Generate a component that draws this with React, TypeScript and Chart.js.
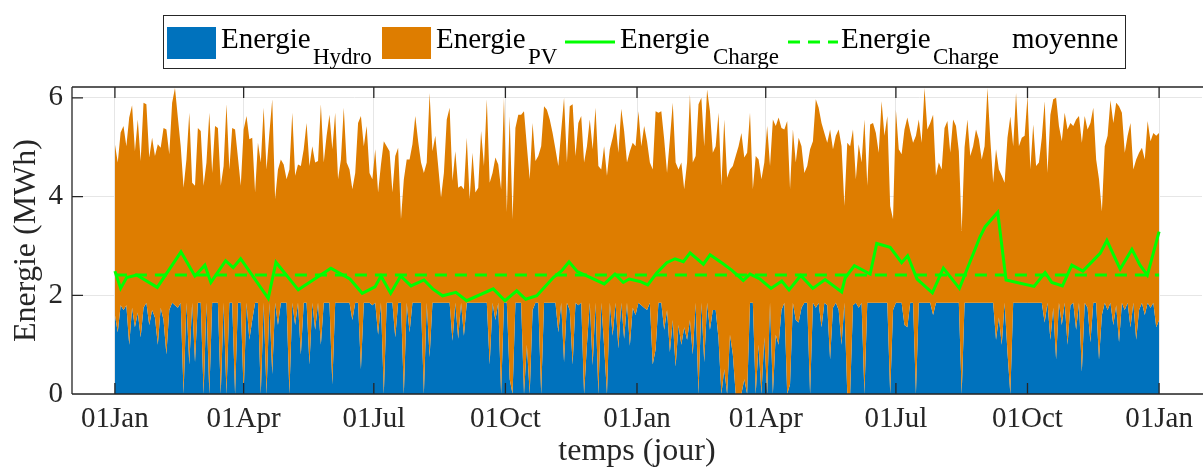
import { useEffect, useRef } from "react";
import { Chart, registerables } from "chart.js";

Chart.register(...registerables);

// ---- Données ----
const PAS_JOURS = 2; // un point tous les 2 jours

// Energie totale (Hydro + PV), MWh, jours 0..730 par pas de 2
const energieTotale = [
  5.06, 4.69, 5.3, 5.43, 5.02, 5.6, 5.85, 4.92, 5.56, 4.72,
  5.9, 5.87, 4.79, 5.19, 4.82, 5.06, 4.99, 5.39, 5.36, 4.86,
  5.9, 6.2, 5.6, 5.02, 4.18, 4.75, 5.7, 4.28, 4.22, 5.39,
  5.33, 4.22, 4.69, 5.7, 4.48, 5.43, 5.39, 4.22, 4.62, 5.87,
  4.55, 5.39, 5.36, 4.79, 4.22, 5.36, 5.63, 5.16, 5.19, 4.08,
  5.09, 4.69, 5.8, 4.55, 5.29, 5.97, 3.95, 4.55, 4.75, 4.65,
  4.35, 4.55, 5.7, 4.42, 4.65, 4.62, 4.96, 5.49, 4.62, 5.02,
  4.69, 4.72, 5.87, 4.69, 5.23, 5.66, 4.96, 5.7, 4.35, 4.75,
  5.8, 4.69, 4.55, 4.15, 4.48, 5.49, 5.63, 5.02, 5.43, 4.48,
  4.35, 4.96, 4.08, 4.65, 5.12, 5.02, 4.92, 4.08, 4.82, 4.99,
  3.54, 4.35, 4.75, 4.75, 5.06, 5.63, 5.12, 4.69, 4.48, 4.69,
  6.1, 4.92, 5.23, 4.62, 3.98, 4.48, 5.56, 5.8, 4.32, 4.92,
  4.18, 4.22, 4.15, 5.19, 3.95, 4.89, 4.08, 4.18, 5.33, 4.62,
  5.97, 4.28, 4.48, 4.79, 4.65, 4.15, 6.0, 3.68, 5.63, 3.54,
  5.39, 5.66, 5.66, 5.73, 5.02, 4.35, 5.49, 4.72, 4.82, 5.02,
  5.83, 5.76, 5.56, 5.29, 4.96, 4.62, 5.33, 6.0, 4.69, 5.83,
  5.87, 4.82, 5.49, 5.63, 4.69, 5.02, 5.56, 4.96, 5.8, 4.62,
  4.55, 5.02, 4.42, 4.96, 5.19, 5.49, 4.89, 5.78, 5.33, 4.69,
  4.92, 5.09, 5.02, 5.73, 5.02, 5.43, 5.12, 4.69, 4.55, 5.73,
  5.7, 5.73, 5.16, 4.48, 5.16, 5.9, 4.69, 4.55, 4.69, 4.15,
  4.69, 6.07, 4.69, 4.82, 5.87, 6.0, 5.02, 6.17, 5.73, 4.89,
  5.02, 5.7, 4.22, 5.56, 4.38, 4.55, 4.62, 4.82, 5.02, 5.29,
  4.79, 4.89, 5.7, 4.15, 4.82, 4.75, 4.35, 4.69, 5.43, 4.62,
  5.56, 5.43, 5.6, 5.39, 5.36, 5.53, 4.15, 5.36, 4.69, 5.19,
  5.02, 4.48, 4.62, 4.96, 5.12, 5.97, 5.8, 5.49, 5.29, 5.09,
  5.36, 4.96, 5.23, 5.36, 5.02, 3.81, 5.09, 5.02, 5.36, 4.35,
  5.06, 4.69, 5.56, 4.22, 5.46, 5.49, 5.29, 4.89, 5.93, 5.23,
  5.63, 3.81, 3.54, 5.76, 4.96, 4.86, 5.36, 5.6, 5.33, 5.09,
  5.23, 5.56, 5.09, 6.2, 5.36, 5.49, 5.66, 4.42, 4.69, 4.55,
  5.39, 5.53, 4.89, 5.56, 5.43, 4.92, 3.3, 5.0, 5.56, 4.82,
  5.02, 5.36, 5.16, 4.75, 5.02, 6.2, 5.16, 4.28, 4.96, 4.55,
  4.42, 4.28, 5.19, 5.62, 5.02, 6.1, 5.02, 5.19, 5.23, 6.03,
  4.55, 5.46, 4.62, 4.69, 5.19, 5.93, 4.48, 5.66, 5.97, 6.0,
  5.43, 5.12, 5.7, 5.36, 5.49, 5.43, 5.56, 5.63, 5.09, 5.63,
  5.36, 5.49, 5.8, 4.75, 4.35, 3.7, 5.02, 5.23, 5.95, 5.49,
  5.9, 5.83, 5.7, 4.89, 5.23, 5.49, 4.55, 4.75, 4.89, 4.99,
  4.75, 5.53, 5.12, 5.29, 5.23, 5.29,
];

// Energie Hydro, MWh, mêmes jours
const energieHydro = [
  1.6, 1.25, 1.8, 1.7, 1.8, 1.0, 1.75, 1.35, 1.65, 1.15,
  1.75, 1.85, 1.4, 1.7, 1.55, 1.0, 1.75, 1.5, 0.8, 1.7,
  1.85, 1.8, 1.75, 1.85, 0, 1.85, 0.6, 1.85, 0.65, 1.85,
  1.85, 0, 1.85, 0, 1.85, 1.85, 1.85, 0, 1.85, 0,
  1.85, 1.85, 0, 1.85, 1.85, 0, 1.85, 1.1, 1.5, 1.85,
  1.85, 0, 1.85, 0, 1.85, 0.4, 1.85, 1.4, 1.85, 1.85,
  1.85, 0, 1.85, 1.4, 1.85, 0.8, 1.85, 1.85, 0.6, 1.85,
  1.3, 1.85, 1.0, 1.85, 1.85, 1.85, 0.2, 1.85, 1.85, 1.85,
  1.85, 1.85, 1.85, 1.5, 1.85, 1.85, 0.5, 1.85, 1.85, 1.85,
  1.8, 1.85, 1.2, 1.85, 0, 1.85, 1.85, 1.85, 1.15, 1.85,
  1.85, 0, 1.85, 1.25, 1.85, 1.85, 1.85, 1.85, 0, 1.85,
  0.75, 1.85, 1.85, 1.85, 1.85, 1.85, 1.85, 1.85, 1.08, 1.85,
  1.12, 1.85, 1.18, 1.85, 1.85, 1.85, 1.85, 1.85, 1.85, 1.85,
  1.85, 0.6, 1.85, 1.5, 1.85, 0, 1.85, 1.85, 0.3, 0,
  1.85, 1.85, 1.85, 0, 1.0, 0, 1.7, 1.85, 1.85, 0,
  1.85, 1.85, 1.85, 1.85, 1.85, 1.25, 1.85, 0.65, 1.85, 1.7,
  0.6, 1.85, 1.8, 1.85, 0, 1.0, 1.85, 0.58, 1.85, 0,
  1.85, 0.98, 0, 1.85, 1.18, 1.85, 0.92, 1.85, 1.12, 1.85,
  0.98, 1.75, 1.6, 1.85, 1.8, 1.75, 1.7, 1.85, 0.6, 0.9,
  1.85, 1.85, 1.3, 1.7, 0.85, 1.5, 0.55, 1.4, 1.0, 1.35,
  1.1, 1.5, 0.8, 1.85, 0, 1.85, 0.65, 1.85, 1.3, 1.7,
  1.7, 1.12, 0, 0.5, 0, 1.2, 0.8, 0, 0, 0,
  0.3, 0, 1.85, 1.85, 0, 1.0, 0, 1.15, 0, 1.85,
  0, 1.2, 1.0, 1.7, 1.85, 0, 0.2, 1.85, 1.5, 1.45,
  1.75, 1.85, 1.85, 0, 1.85, 1.75, 1.85, 1.35, 1.85, 1.8,
  0.7, 1.75, 1.85, 1.7, 1.0, 1.85, 0, 0, 1.8, 1.85,
  1.75, 1.85, 0, 1.85, 1.85, 1.85, 1.85, 1.85, 1.85, 1.85,
  1.85, 0, 1.7, 1.85, 1.85, 1.85, 1.4, 1.35, 1.85, 1.85,
  0, 1.85, 1.85, 1.85, 1.85, 1.85, 1.6, 1.85, 1.85, 1.85,
  1.85, 1.85, 1.85, 1.85, 1.85, 1.85, 0, 1.85, 1.85, 1.85,
  1.85, 1.85, 1.85, 1.85, 1.85, 1.85, 1.85, 1.85, 1.1, 1.55,
  1.0, 1.85, 0.85, 0, 1.85, 1.85, 1.85, 1.85, 1.85, 1.85,
  1.85, 1.85, 1.85, 1.85, 1.85, 1.45, 1.85, 1.1, 1.75, 0.7,
  1.85, 1.4, 1.85, 1.0, 1.8, 1.85, 1.3, 1.85, 0.45, 1.85,
  1.75, 1.05, 1.85, 1.85, 0.7, 1.6, 1.85, 1.7, 1.85, 1.4,
  1.8, 1.05, 1.85, 1.7, 1.85, 1.35, 1.85, 1.1, 1.7, 1.85,
  1.6, 1.85, 1.75, 1.85, 1.35, 1.5,
];

// Energie de charge (jours, MWh)
const chargeJours = [
  0, 4, 8.2, 15.2, 29.6, 46.2, 55.9, 62.9, 67.1, 77.4,
  82.7, 87.9, 107.2, 112.6, 128.2, 151, 164.3, 172.9, 181.8, 186,
  192.8, 199.8, 207, 216.1, 222.2, 229.1, 238.4, 245.9, 264.5, 272.7,
  280.9, 287.2, 294.9, 306.5, 312.4, 317.5, 323.3, 331, 342.1, 349.6,
  355.4, 359.6, 367.1, 372.5, 378.8, 385.8, 391.6, 397.4, 402.1, 411.4,
  416.1, 424.7, 431.2, 439.3, 444, 451, 458.7, 466.2, 471.3, 479.5,
  487.9, 496.5, 508.1, 510.5, 517, 528, 532.6, 542, 550, 554.2,
  560.8, 571.5, 579.2, 590.4, 604.9, 608.4, 617.2, 623, 642.6, 650.3,
  655, 662.4, 669, 676.7, 688.8, 693.5, 702.8, 711, 716.7, 721.8,
  730,
];
const energieCharge = [
  2.49, 2.14, 2.36, 2.41, 2.16, 2.88, 2.39, 2.61, 2.26, 2.7,
  2.56, 2.74, 1.94, 2.67, 2.11, 2.55, 2.33, 2.04, 2.17, 2.39,
  2.04, 2.39, 2.19, 2.31, 2.13, 1.99, 2.06, 1.89, 2.13, 1.89,
  2.09, 1.92, 1.99, 2.36, 2.5, 2.68, 2.48, 2.38, 2.23, 2.43,
  2.26, 2.33, 2.28, 2.21, 2.45, 2.66, 2.74, 2.68, 2.86, 2.63,
  2.82, 2.65, 2.51, 2.3, 2.43, 2.33, 2.14, 2.29, 2.11, 2.4,
  2.14, 2.32, 2.07, 2.35, 2.6, 2.43, 3.05, 2.97, 2.66, 2.8,
  2.33, 2.05, 2.55, 2.14, 3.19, 3.39, 3.68, 2.31, 2.18, 2.46,
  2.26, 2.19, 2.61, 2.49, 2.85, 3.11, 2.53, 2.93, 2.61, 2.41,
  3.29,
];
const chargeMoyenne = 2.41;
const moyenneJours = [0, 730];

// Axes
const tickJours = [0, 90, 181, 273, 365, 455, 546, 638, 730];
const tickLabels = ["01Jan", "01Apr", "01Jul", "01Oct", "01Jan", "01Apr", "01Jul", "01Oct", "01Jan"];
const yTicks = [0, 2, 4, 6];
const xMin = -30;
const xMax = 760;
const yMax = 6.22;

// ---- Styles ----
const BLEU = "rgb(0,114,189)";
const ORANGE = "rgb(222,125,0)";
const VERT = "rgb(0,255,0)";
const AXE = "#262626";
const GRILLE = "#e6e6e6";
const FAMILLE = "'Liberation Serif', 'Times New Roman', serif";

const axesMatlab = {
  id: "axesMatlab",
  afterDatasetsDraw(chart: any) {
    const { ctx, chartArea: a, scales } = chart;
    const sx = scales.x;
    const sy = scales.y;
    const TL = 11;
    ctx.save();
    ctx.strokeStyle = AXE;
    ctx.lineWidth = 1.3;
    ctx.beginPath();
    ctx.moveTo(a.left, a.top);
    ctx.lineTo(a.right + 2, a.top);
    ctx.moveTo(a.left, a.top);
    ctx.lineTo(a.left, a.bottom);
    ctx.moveTo(a.left, a.bottom);
    ctx.lineTo(a.right + 2, a.bottom);
    sx.ticks.forEach((t: any) => {
      const px = sx.getPixelForValue(t.value);
      ctx.moveTo(px, a.bottom);
      ctx.lineTo(px, a.bottom - TL);
      ctx.moveTo(px, a.top);
      ctx.lineTo(px, a.top + TL);
    });
    sy.ticks.forEach((t: any) => {
      const py = sy.getPixelForValue(t.value);
      ctx.moveTo(a.left, py);
      ctx.lineTo(a.left + TL, py);
    });
    ctx.stroke();
    ctx.restore();
  },
};

const legendeMatlab = {
  id: "legendeMatlab",
  afterDraw(chart: any) {
    const ctx = chart.ctx;
    ctx.save();
    ctx.fillStyle = "#ffffff";
    ctx.fillRect(163.5, 15.5, 962, 53);
    ctx.strokeStyle = AXE;
    ctx.lineWidth = 1;
    ctx.strokeRect(163.5, 15.5, 962, 53);

    ctx.fillStyle = BLEU;
    ctx.fillRect(167, 27, 49, 32);
    ctx.fillStyle = ORANGE;
    ctx.fillRect(382, 27, 49, 32);

    ctx.strokeStyle = VERT;
    ctx.lineWidth = 3;
    ctx.beginPath();
    ctx.moveTo(565, 42);
    ctx.lineTo(615, 42);
    ctx.stroke();
    ctx.setLineDash([12, 8]);
    ctx.beginPath();
    ctx.moveTo(788, 42);
    ctx.lineTo(838, 42);
    ctx.stroke();
    ctx.setLineDash([]);

    ctx.fillStyle = "#000000";
    ctx.textAlign = "left";
    ctx.textBaseline = "alphabetic";
    const items: [number, string, number, string][] = [
      [221, "Energie", 313, "Hydro"],
      [436, "Energie", 528, "PV"],
      [620, "Energie", 713, "Charge"],
      [841, "Energie", 933, "Charge"],
    ];
    items.forEach(([x1, t1, x2, t2]) => {
      ctx.font = `29px ${FAMILLE}`;
      ctx.fillText(t1, x1, 48);
      ctx.font = `23px ${FAMILLE}`;
      ctx.fillText(t2, x2, 64);
    });
    ctx.font = `29px ${FAMILLE}`;
    ctx.fillText("moyenne", 1012, 48);
    ctx.restore();
  },
};

export default function App() {
  const canvasRef = useRef<HTMLCanvasElement | null>(null);

  useEffect(() => {
    document.body.style.margin = "0";
    const canvas = canvasRef.current;
    if (!canvas) return;

    const joursAire = energieTotale.map((_, i) => i * PAS_JOURS);

    const chart = new Chart(canvas, {
      type: "line",
      data: {
        datasets: [
          {
            label: "Energie Hydro",
            data: energieHydro.map((v, i) => ({ x: joursAire[i], y: v })),
            fill: "origin",
            backgroundColor: BLEU,
            borderColor: "transparent",
            borderWidth: 0,
            pointRadius: 0,
            order: 3,
          },
          {
            label: "Energie PV",
            data: energieTotale.map((v, i) => ({ x: joursAire[i], y: v })),
            fill: "-1",
            backgroundColor: ORANGE,
            borderColor: "transparent",
            borderWidth: 0,
            pointRadius: 0,
            order: 2,
          },
          {
            label: "Energie Charge",
            data: energieCharge.map((v, i) => ({ x: chargeJours[i], y: v })),
            fill: false,
            borderColor: VERT,
            borderWidth: 3,
            pointRadius: 0,
            order: 1,
          },
          {
            label: "Energie Charge moyenne",
            data: moyenneJours.map((d) => ({ x: d, y: chargeMoyenne })),
            fill: false,
            borderColor: VERT,
            borderWidth: 3,
            borderDash: [12, 8],
            pointRadius: 0,
            order: 0,
          },
        ],
      },
      options: {
        animation: false,
        responsive: true,
        maintainAspectRatio: false,
        layout: { padding: { top: 87, right: 1, left: 0, bottom: 0 } },
        elements: { line: { tension: 0 } },
        plugins: {
          legend: { display: false },
          tooltip: { enabled: false },
          filler: { drawTime: "beforeDatasetsDraw" },
        },
        scales: {
          x: {
            type: "linear",
            min: xMin,
            max: xMax,
            afterBuildTicks: (s: any) => {
              s.ticks = tickJours.map((v) => ({ value: v }));
            },
            afterFit: (s: any) => {
              s.height = 74;
            },
            ticks: {
              autoSkip: false,
              maxRotation: 0,
              minRotation: 0,
              padding: 8,
              color: AXE,
              font: { family: FAMILLE, size: 29 },
              callback: (_v: any, i: number) => tickLabels[i],
            },
            grid: { color: GRILLE, drawTicks: false, lineWidth: 1 },
            border: { display: false },
            title: {
              display: true,
              text: "temps (jour)",
              color: AXE,
              font: { family: FAMILLE, size: 32, lineHeight: 1 },
              padding: { top: 0, bottom: 0 },
            },
          },
          y: {
            min: 0,
            max: yMax,
            afterBuildTicks: (s: any) => {
              s.ticks = yTicks.map((v) => ({ value: v }));
            },
            afterFit: (s: any) => {
              s.width = 72;
            },
            ticks: {
              padding: 9,
              color: AXE,
              font: { family: FAMILLE, size: 29 },
              callback: (v: any) => String(v),
            },
            grid: { color: GRILLE, drawTicks: false, lineWidth: 1 },
            border: { display: false },
            title: {
              display: true,
              text: "Energie (MWh)",
              color: AXE,
              font: { family: FAMILLE, size: 32, lineHeight: 1 },
              padding: { top: 11, bottom: 0 },
            },
          },
        },
      },
      plugins: [axesMatlab, legendeMatlab],
    } as any);

    return () => {
      chart.destroy();
    };
  }, []);

  return (
    <div style={{ width: 1203, height: 468, position: "relative" }}>
      <canvas ref={canvasRef} />
    </div>
  );
}
